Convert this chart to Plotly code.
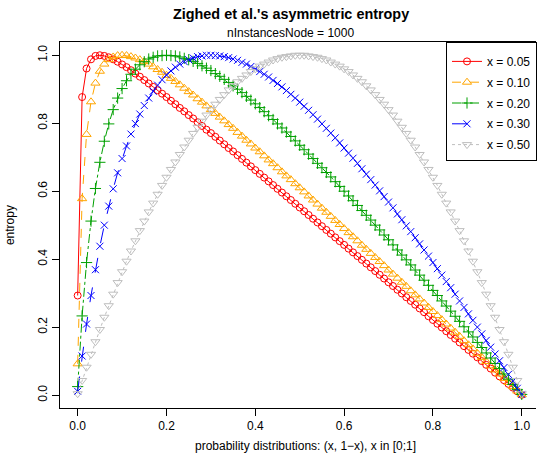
import plotly.graph_objects as go

# probability grid x in [0;1]
P = [0.00, 0.01, 0.02, 0.03, 0.04, 0.05, 0.06, 0.07, 0.08, 0.09,
     0.10, 0.11, 0.12, 0.13, 0.14, 0.15, 0.16, 0.17, 0.18, 0.19,
     0.20, 0.21, 0.22, 0.23, 0.24, 0.25, 0.26, 0.27, 0.28, 0.29,
     0.30, 0.31, 0.32, 0.33, 0.34, 0.35, 0.36, 0.37, 0.38, 0.39,
     0.40, 0.41, 0.42, 0.43, 0.44, 0.45, 0.46, 0.47, 0.48, 0.49,
     0.50, 0.51, 0.52, 0.53, 0.54, 0.55, 0.56, 0.57, 0.58, 0.59,
     0.60, 0.61, 0.62, 0.63, 0.64, 0.65, 0.66, 0.67, 0.68, 0.69,
     0.70, 0.71, 0.72, 0.73, 0.74, 0.75, 0.76, 0.77, 0.78, 0.79,
     0.80, 0.81, 0.82, 0.83, 0.84, 0.85, 0.86, 0.87, 0.88, 0.89,
     0.90, 0.91, 0.92, 0.93, 0.94, 0.95, 0.96, 0.97, 0.98, 0.99, 1.00]

H_005 = [0.293, 0.877, 0.961, 0.988, 0.998, 1.000, 0.998, 0.994, 0.988, 0.981,
         0.973, 0.965, 0.956, 0.946, 0.937, 0.927, 0.917, 0.907, 0.897, 0.887,
         0.877, 0.866, 0.856, 0.845, 0.835, 0.824, 0.814, 0.803, 0.792, 0.781,
         0.771, 0.760, 0.749, 0.738, 0.727, 0.717, 0.706, 0.695, 0.684, 0.673,
         0.662, 0.651, 0.640, 0.629, 0.618, 0.607, 0.596, 0.585, 0.574, 0.563,
         0.552, 0.541, 0.530, 0.519, 0.508, 0.497, 0.486, 0.475, 0.464, 0.453,
         0.442, 0.431, 0.420, 0.409, 0.398, 0.387, 0.376, 0.365, 0.354, 0.343,
         0.332, 0.321, 0.310, 0.299, 0.288, 0.277, 0.266, 0.255, 0.244, 0.232,
         0.221, 0.210, 0.199, 0.188, 0.177, 0.166, 0.155, 0.144, 0.133, 0.122,
         0.111, 0.100, 0.089, 0.078, 0.066, 0.055, 0.044, 0.033, 0.022, 0.011, 0.001]

H_010 = [0.092, 0.578, 0.767, 0.863, 0.918, 0.953, 0.974, 0.987, 0.995, 0.999,
         1.000, 0.999, 0.996, 0.992, 0.987, 0.981, 0.974, 0.966, 0.958, 0.950,
         0.941, 0.932, 0.923, 0.913, 0.903, 0.893, 0.883, 0.872, 0.862, 0.851,
         0.840, 0.829, 0.818, 0.807, 0.796, 0.785, 0.773, 0.762, 0.750, 0.739,
         0.727, 0.716, 0.704, 0.692, 0.681, 0.669, 0.657, 0.645, 0.634, 0.622,
         0.610, 0.598, 0.586, 0.574, 0.562, 0.550, 0.538, 0.526, 0.514, 0.502,
         0.490, 0.478, 0.466, 0.454, 0.441, 0.429, 0.417, 0.405, 0.393, 0.381,
         0.368, 0.356, 0.344, 0.332, 0.320, 0.307, 0.295, 0.283, 0.271, 0.258,
         0.246, 0.234, 0.222, 0.209, 0.197, 0.185, 0.173, 0.160, 0.148, 0.136,
         0.123, 0.111, 0.099, 0.086, 0.074, 0.062, 0.049, 0.037, 0.025, 0.012, 0.001]

H_020 = [0.025, 0.233, 0.390, 0.512, 0.608, 0.685, 0.747, 0.798, 0.840, 0.874,
         0.902, 0.925, 0.944, 0.959, 0.972, 0.981, 0.989, 0.994, 0.998, 0.999,
         1.000, 0.999, 0.998, 0.995, 0.991, 0.987, 0.982, 0.976, 0.969, 0.962,
         0.955, 0.946, 0.938, 0.929, 0.920, 0.910, 0.900, 0.890, 0.879, 0.868,
         0.857, 0.846, 0.834, 0.822, 0.811, 0.798, 0.786, 0.774, 0.761, 0.748,
         0.735, 0.722, 0.709, 0.696, 0.682, 0.669, 0.655, 0.642, 0.628, 0.614,
         0.600, 0.586, 0.572, 0.558, 0.543, 0.529, 0.515, 0.500, 0.486, 0.471,
         0.457, 0.442, 0.427, 0.412, 0.398, 0.383, 0.368, 0.353, 0.338, 0.323,
         0.308, 0.293, 0.277, 0.262, 0.247, 0.232, 0.217, 0.201, 0.186, 0.171,
         0.155, 0.140, 0.124, 0.109, 0.093, 0.078, 0.062, 0.047, 0.031, 0.016, 0.002]

H_030 = [0.011, 0.115, 0.209, 0.293, 0.369, 0.438, 0.500, 0.556, 0.607, 0.654,
         0.696, 0.733, 0.768, 0.799, 0.827, 0.852, 0.874, 0.894, 0.912, 0.928,
         0.942, 0.954, 0.965, 0.974, 0.981, 0.987, 0.992, 0.996, 0.998, 1.000,
         1.000, 0.999, 0.998, 0.996, 0.993, 0.989, 0.985, 0.979, 0.974, 0.967,
         0.960, 0.952, 0.944, 0.936, 0.926, 0.917, 0.907, 0.896, 0.885, 0.874,
         0.862, 0.850, 0.838, 0.825, 0.812, 0.798, 0.785, 0.771, 0.757, 0.742,
         0.727, 0.712, 0.697, 0.682, 0.666, 0.650, 0.634, 0.618, 0.601, 0.584,
         0.568, 0.551, 0.533, 0.516, 0.498, 0.481, 0.463, 0.445, 0.427, 0.409,
         0.390, 0.372, 0.353, 0.334, 0.316, 0.297, 0.277, 0.258, 0.239, 0.220,
         0.200, 0.180, 0.161, 0.141, 0.121, 0.101, 0.081, 0.061, 0.041, 0.020, 0.002]

H_050 = [0.004, 0.043, 0.082, 0.120, 0.157, 0.193, 0.229, 0.263, 0.297, 0.331,
         0.363, 0.394, 0.424, 0.454, 0.484, 0.512, 0.539, 0.565, 0.591, 0.617,
         0.641, 0.664, 0.686, 0.708, 0.730, 0.750, 0.770, 0.788, 0.806, 0.824,
         0.840, 0.856, 0.870, 0.884, 0.898, 0.910, 0.922, 0.932, 0.942, 0.952,
         0.960, 0.968, 0.974, 0.980, 0.986, 0.990, 0.994, 0.996, 0.998, 1.000,
         1.000, 1.000, 0.998, 0.996, 0.994, 0.990, 0.986, 0.980, 0.974, 0.968,
         0.960, 0.952, 0.942, 0.932, 0.922, 0.910, 0.898, 0.884, 0.870, 0.856,
         0.840, 0.824, 0.806, 0.788, 0.770, 0.750, 0.730, 0.708, 0.686, 0.664,
         0.641, 0.617, 0.591, 0.565, 0.539, 0.512, 0.484, 0.454, 0.424, 0.394,
         0.363, 0.331, 0.297, 0.263, 0.229, 0.193, 0.157, 0.120, 0.082, 0.043, 0.004]

SERIES_NAMES = ["x = 0.05", "x = 0.10", "x = 0.20", "x = 0.30", "x = 0.50"]
SERIES_VALUES = [H_005, H_010, H_020, H_030, H_050]
X_TICKS = [0.0, 0.2, 0.4, 0.6, 0.8, 1.0]
X_TICK_LABELS = ["0.0", "0.2", "0.4", "0.6", "0.8", "1.0"]
Y_TICKS = [0.0, 0.2, 0.4, 0.6, 0.8, 1.0]
Y_TICK_LABELS = ["0.0", "0.2", "0.4", "0.6", "0.8", "1.0"]

COLORS = ["#FF0000", "#FFA500", "#00A000", "#0000FF", "#BEBEBE"]
SYMBOLS = ["circle-open", "triangle-up-open", "cross-thin-open", "x-thin-open", "triangle-down-open"]
SIZES = [7, 8, 8, 7, 8]
DASHES = ["solid", "dash", "dashdot", "longdash", "dot"]

FONT = "Liberation Sans, Arial, Helvetica, sans-serif"

fig = go.Figure()
for name, vals, col, sym, sz, dash in zip(SERIES_NAMES, SERIES_VALUES, COLORS, SYMBOLS, SIZES, DASHES):
    fig.add_trace(go.Scatter(
        x=P, y=vals, name=name, mode="lines+markers", legendgroup=name,
        line=dict(color=col, width=1, dash=dash),
        marker=dict(symbol=sym, size=sz, color=col, line=dict(color=col, width=1)),
    ))

L, T, B = 60, 42, 57
W, Hh = 537, 465
pw, ph = W - L, Hh - T - B

fig.update_layout(
    width=W, height=Hh,
    margin=dict(l=L, r=0, t=T, b=B, pad=0),
    plot_bgcolor="white", paper_bgcolor="white",
    font=dict(family=FONT, size=12, color="black"),
    showlegend=True,
    legend=dict(x=(447 - L) / pw, y=1, xanchor="left", yanchor="top",
                bgcolor="white", bordercolor="black", borderwidth=1,
                font=dict(family=FONT, size=12, color="black"),
                title=dict(text=" ", font=dict(size=3)),
                itemwidth=30, tracegroupgap=1.8),
    xaxis=dict(range=[-0.0398, 1.0321], showgrid=False, zeroline=False,
               showline=True, mirror=True, linecolor="black", linewidth=1,
               ticks="outside", ticklen=7, tickcolor="black", tickwidth=1,
               tickvals=X_TICKS, ticktext=X_TICK_LABELS,
               tickfont=dict(family=FONT, size=12, color="black")),
    yaxis=dict(range=[-0.038, 1.039], showgrid=False, zeroline=False,
               showline=True, mirror=False, linecolor="black", linewidth=1,
               ticks="outside", ticklen=7, tickcolor="black", tickwidth=1,
               tickvals=Y_TICKS, ticktext=Y_TICK_LABELS, tickangle=-90,
               tickfont=dict(family=FONT, size=12, color="black")),
    annotations=[
        dict(text="<b>Zighed et al.'s asymmetric entropy</b>", xref="paper", yref="paper",
             x=(291 - L) / pw, y=1 + (T - 14) / ph, xanchor="center", yanchor="middle",
             showarrow=False, font=dict(family=FONT, size=14.4, color="black")),
        dict(text="nInstancesNode = 1000", xref="paper", yref="paper",
             x=(291 - L) / pw, y=1 + (T - 33.5) / ph, xanchor="center", yanchor="middle",
             showarrow=False, font=dict(family=FONT, size=12, color="black")),
        dict(text="probability distributions: (x, 1\u2212x), x in [0;1]", xref="paper", yref="paper",
             x=(306 - L) / pw, y=-(446 - (Hh - B)) / ph, xanchor="center", yanchor="middle",
             showarrow=False, font=dict(family=FONT, size=12, color="black")),
        dict(text="entropy", xref="paper", yref="paper", textangle=-90,
             x=(10 - L) / pw, y=0.5, xanchor="center", yanchor="middle",
             showarrow=False, font=dict(family=FONT, size=12, color="black")),
    ],
)

fig.write_html("out.html", config={"displayModeBar": False},
               post_script="document.body.style.margin='0';document.body.style.padding='0';")
